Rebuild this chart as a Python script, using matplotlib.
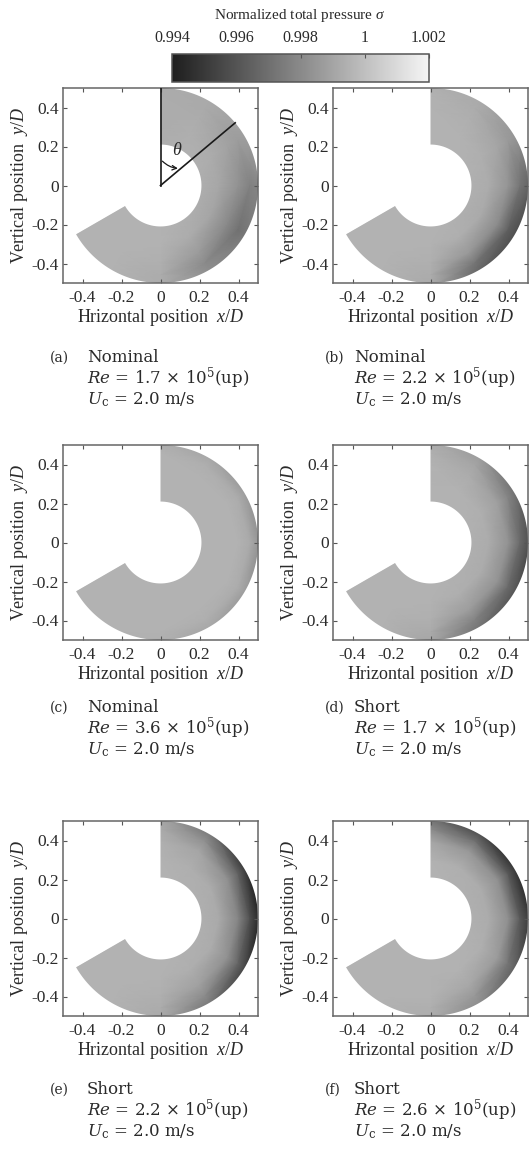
import numpy as np
import matplotlib
matplotlib.use("Agg")
import matplotlib.pyplot as plt
from matplotlib.colors import LinearSegmentedColormap
from matplotlib.patches import PathPatch, FancyArrowPatch
from matplotlib.path import Path

plt.rcParams['font.family'] = ['Liberation Serif', 'DejaVu Serif']
plt.rcParams['mathtext.fontset'] = 'custom'
plt.rcParams['mathtext.rm'] = 'Liberation Serif'
plt.rcParams['mathtext.it'] = 'Liberation Serif:italic'

W, H = 530, 1158

# sample grid: angle clockwise from +y, radius (inner/outer rows reach past the duct walls)
THETA_DEG = [0, 30, 60, 90, 120, 150, 180, 210, 240]
RADIUS = [0.15, 0.30, 0.40, 0.46, 0.52]
R_IN, R_OUT = 0.21, 0.50

# normalized total pressure, one row per radius
SIGMA_A = [[0.9994, 0.9995, 0.9995, 0.9995, 0.9995, 0.9995, 0.9995, 0.9995, 0.9995],
           [0.9993, 0.9994, 0.9993, 0.9991, 0.9990, 0.9993, 0.9995, 0.9995, 0.9995],
           [0.9993, 0.9993, 0.9989, 0.9983, 0.9979, 0.9986, 0.9994, 0.9995, 0.9995],
           [0.9993, 0.9992, 0.9987, 0.9977, 0.9971, 0.9980, 0.9993, 0.9995, 0.9995],
           [0.9993, 0.9992, 0.9988, 0.9979, 0.9974, 0.9982, 0.9993, 0.9995, 0.9995]]
SIGMA_B = [[0.9995, 0.9995, 0.9995, 0.9995, 0.9995, 0.9995, 0.9995, 0.9995, 0.9995],
           [0.9995, 0.9995, 0.9994, 0.9993, 0.9992, 0.9994, 0.9995, 0.9995, 0.9995],
           [0.9995, 0.9994, 0.9990, 0.9984, 0.9980, 0.9985, 0.9994, 0.9995, 0.9995],
           [0.9995, 0.9993, 0.9986, 0.9972, 0.9964, 0.9972, 0.9993, 0.9995, 0.9995],
           [0.9994, 0.9992, 0.9984, 0.9964, 0.9956, 0.9965, 0.9992, 0.9995, 0.9995]]
SIGMA_C = [[0.9995, 0.9995, 0.9995, 0.9995, 0.9995, 0.9995, 0.9995, 0.9995, 0.9995],
           [0.9995, 0.9995, 0.9995, 0.9995, 0.9995, 0.9995, 0.9995, 0.9995, 0.9995],
           [0.9995, 0.9995, 0.9995, 0.9995, 0.9995, 0.9995, 0.9995, 0.9995, 0.9995],
           [0.9995, 0.9994, 0.9993, 0.9992, 0.9993, 0.9994, 0.9995, 0.9995, 0.9995],
           [0.9993, 0.9990, 0.9985, 0.9982, 0.9985, 0.9990, 0.9994, 0.9995, 0.9995]]
SIGMA_D = [[0.9995, 0.9995, 0.9995, 0.9995, 0.9995, 0.9995, 0.9995, 0.9995, 0.9995],
           [0.9995, 0.9995, 0.9994, 0.9993, 0.9993, 0.9994, 0.9995, 0.9995, 0.9995],
           [0.9995, 0.9993, 0.9988, 0.9983, 0.9983, 0.9987, 0.9994, 0.9995, 0.9995],
           [0.9994, 0.9990, 0.9978, 0.9968, 0.9968, 0.9977, 0.9992, 0.9995, 0.9995],
           [0.9993, 0.9986, 0.9968, 0.9956, 0.9958, 0.9970, 0.9990, 0.9995, 0.9995]]
SIGMA_E = [[0.9995, 0.9995, 0.9995, 0.9995, 0.9995, 0.9995, 0.9995, 0.9995, 0.9995],
           [0.9995, 0.9994, 0.9993, 0.9992, 0.9993, 0.9994, 0.9995, 0.9995, 0.9995],
           [0.9994, 0.9990, 0.9982, 0.9978, 0.9982, 0.9988, 0.9994, 0.9995, 0.9995],
           [0.9992, 0.9982, 0.9965, 0.9958, 0.9966, 0.9980, 0.9993, 0.9995, 0.9995],
           [0.9990, 0.9972, 0.9945, 0.9938, 0.9950, 0.9972, 0.9992, 0.9995, 0.9995]]
SIGMA_F = [[0.9995, 0.9995, 0.9995, 0.9995, 0.9995, 0.9995, 0.9995, 0.9995, 0.9995],
           [0.9995, 0.9994, 0.9993, 0.9993, 0.9994, 0.9995, 0.9995, 0.9995, 0.9995],
           [0.9990, 0.9985, 0.9982, 0.9982, 0.9986, 0.9991, 0.9995, 0.9995, 0.9995],
           [0.9980, 0.9970, 0.9962, 0.9962, 0.9972, 0.9985, 0.9994, 0.9995, 0.9995],
           [0.9970, 0.9955, 0.9945, 0.9948, 0.9962, 0.9980, 0.9993, 0.9995, 0.9995]]

FIELDS = [SIGMA_A, SIGMA_B, SIGMA_C, SIGMA_D, SIGMA_E, SIGMA_F]
LETTERS = ['a', 'b', 'c', 'd', 'e', 'f']
CASES = ['Nominal', 'Nominal', 'Nominal', 'Short', 'Short', 'Short']
RE_VALUES = ['1.7', '2.2', '3.6', '1.7', '2.2', '2.6']
UC = '2.0'

CB_TICKS = [0.994, 0.996, 0.998, 1.0, 1.002]
CB_LABELS = ['0.994', '0.996', '0.998', '1', '1.002']
AX_TICKS = [-0.4, -0.2, 0, 0.2, 0.4]
AX_LABELS = ['-0.4', '-0.2', '0', '0.2', '0.4']
THETA_MARK = 50  # angle of the reference line in panel (a)

TXT = '#2a2a2a'
cmap = LinearSegmentedColormap.from_list('sigma', ['#1e1e1e', '#f5f5f5'])


def fx(px):
    return px / W


def fy(px):
    return 1 - px / H


def duct_mask():
    # white sheet with an annular-sector hole; hides the mesh outside the duct
    t = np.deg2rad(np.linspace(THETA_DEG[0], THETA_DEG[-1], 241))
    xo, yo = R_OUT * np.sin(t), R_OUT * np.cos(t)
    xi, yi = R_IN * np.sin(t[::-1]), R_IN * np.cos(t[::-1])
    sector = np.column_stack([np.r_[xo, xi, xo[0]], np.r_[yo, yi, yo[0]]])
    box = np.array([[-1, -1], [1, -1], [1, 1], [-1, 1], [-1, -1]])
    # box counter-clockwise, sector clockwise -> hole under nonzero fill
    verts = np.vstack([box, sector])
    codes = ([Path.MOVETO] + [Path.LINETO] * 3 + [Path.CLOSEPOLY]
             + [Path.MOVETO] + [Path.LINETO] * (len(sector) - 2) + [Path.CLOSEPOLY])
    return Path(verts, codes)


fig = plt.figure(figsize=(W / 100, H / 100), dpi=100)

col_left = [63, 333]
row_bottom = [283, 640, 1016]
cap_top = [358, 708, 1090]
AXW, AXH = 195, 195

th = np.deg2rad(THETA_DEG)
T, R = np.meshgrid(th, RADIUS)
X = R * np.sin(T)
Y = R * np.cos(T)

cap_kw = dict(color=TXT, ha='left', va='center', family='DejaVu Serif',
              math_fontfamily='dejavuserif')

mesh = None
for i, vals in enumerate(FIELDS):
    row, col = divmod(i, 2)
    ax = fig.add_axes([fx(col_left[col]), fy(row_bottom[row]), AXW / W, AXH / H])
    mesh = ax.pcolormesh(X, Y, np.array(vals), shading='gouraud', cmap=cmap,
                         vmin=CB_TICKS[0], vmax=CB_TICKS[-1], zorder=1)
    ax.add_patch(PathPatch(duct_mask(), facecolor='white', edgecolor='none',
                           zorder=1.5))
    ax.set_xlim(-0.5, 0.5)
    ax.set_ylim(-0.5, 0.5)
    ax.set_xticks(AX_TICKS)
    ax.set_yticks(AX_TICKS)
    ax.set_xticklabels(AX_LABELS)
    ax.set_yticklabels(AX_LABELS)
    ax.tick_params(direction='in', length=3, width=0.8, color='#555555',
                   top=True, right=True, labelsize=12.5, labelcolor=TXT)
    ax.tick_params(axis='x', pad=5)
    ax.tick_params(axis='y', pad=3)
    for sp in ax.spines.values():
        sp.set_color('#666666')
        sp.set_linewidth(1.1)
    ax.set_xlabel('Hrizontal position  $x/D$', fontsize=13, color=TXT, labelpad=1)
    ax.set_ylabel('Vertical position  $y/D$', fontsize=13, color=TXT, labelpad=1)

    if i == 0:
        # angle definition: top reference line, measuring line and arc
        t = np.deg2rad(THETA_MARK)
        ax.plot([0, 0], [0, R_OUT], color='#1a1a1a', lw=1.2, zorder=3)
        ax.plot([0, R_OUT * np.sin(t)], [0, R_OUT * np.cos(t)], color='#1a1a1a',
                lw=1.2, zorder=3)
        ra = 0.135
        arc = FancyArrowPatch((0, ra), (ra * np.sin(t), ra * np.cos(t)),
                              connectionstyle='arc3,rad=0.22', arrowstyle='->',
                              mutation_scale=8, color='#1a1a1a', lw=0.9, zorder=3)
        ax.add_patch(arc)
        ax.text(0.085, 0.18, r'$\theta$', fontsize=13, color=TXT,
                ha='center', va='center', zorder=3)

    # caption block
    x0 = [50, 325][col]
    x1 = [87, 354][col]
    y0 = cap_top[row]
    fig.text(fx(x0), fy(y0), f'({LETTERS[i]})', fontsize=10, **cap_kw)
    fig.text(fx(x1), fy(y0), CASES[i], fontsize=12, **cap_kw)
    fig.text(fx(x1), fy(y0 + 20), f'$Re$ = {RE_VALUES[i]} × 10$^{{5}}$(up)',
             fontsize=12, **cap_kw)
    fig.text(fx(x1), fy(y0 + 42), f'$U_{{\\mathrm{{c}}}}$ = {UC} m/s',
             fontsize=12, **cap_kw)

# colour bar across the top
cax = fig.add_axes([fx(172), fy(82), 257 / W, 28 / H])
cb = fig.colorbar(mesh, cax=cax, orientation='horizontal', ticklocation='top')
cb.set_ticks(CB_TICKS)
cb.set_ticklabels(CB_LABELS)
cb.ax.tick_params(direction='in', length=3, width=0.8, color='#555555',
                  labelsize=11.5, labelcolor=TXT, pad=6)
cb.outline.set_edgecolor('#555555')
cb.outline.set_linewidth(1.1)
fig.text(fx(300), fy(15), r'Normalized total pressure $\sigma$', fontsize=11,
         color=TXT, ha='center', va='center')

fig.savefig('out.png', dpi=100)
